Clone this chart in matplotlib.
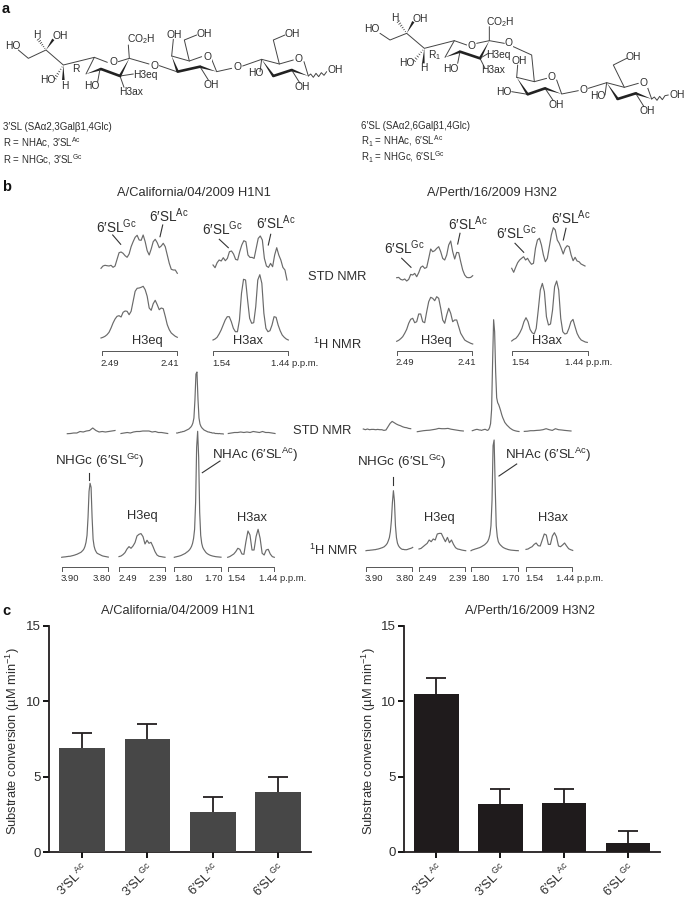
# -*- coding:utf-8 -*-
"""STD NMR of 3'SL / 6'SL on two HA strains, with substrate conversion bars"""
import numpy as np
import matplotlib
matplotlib.use('Agg')
import matplotlib.pyplot as plt

plt.rcParams['font.family'] = ['Liberation Sans', 'DejaVu Sans']
plt.rcParams['mathtext.fontset'] = 'custom'
plt.rcParams['mathtext.rm'] = 'Liberation Sans'
plt.rcParams['mathtext.it'] = 'Liberation Sans'
plt.rcParams['mathtext.bf'] = 'Liberation Sans:bold'
plt.rcParams['mathtext.default'] = 'rm'

W, H = 685, 898
TXT = '#2e2e2e'
TRACE = '#6a6a6a'

# ---- panel c data ----
bar_labels = ["3′SL$^{\\,Ac}$", "3′SL$^{\\,Gc}$", "6′SL$^{\\,Ac}$", "6′SL$^{\\,Gc}$"]
h1n1_rate = [6.9, 7.5, 2.7, 4.0]
h1n1_err = [1.03, 1.0, 0.95, 1.0]
h3n2_rate = [10.5, 3.2, 3.25, 0.6]
h3n2_err = [1.05, 1.0, 0.95, 0.8]
y_ticks = [0, 5, 10, 15]

# ---- panel b, H1N1 expansions (intensity on an even ppm grid) ----
cal_std_h3eq = [6.7, 9, 9.7, 9.3, 9, 9.7, 7.7, 9, 15.7, 22.3, 23, 21.7, 19.3, 17.7, 21, 28.3, 33.3, 37.7, 39.7, 35,
                34.7, 40, 33.3, 24.3, 20, 26, 33.3, 35.7, 32.3, 27.3, 29, 31.7, 28.3, 20, 11.7, 5.7, 5, 5, 1.7]
cal_ref_h3eq = [0, .7, 1.7, 3.3, 5.7, 10, 15, 19, 21.7, 22.3, 21, 25.7, 27, 26.7, 23.3, 26.7, 36.7, 46.7, 49.7, 50,
                50.7, 51.7, 48.3, 41.7, 30, 27.7, 34.3, 37.7, 33.3, 28.3, 30, 29.3, 21.7, 13.3, 8.3, 5, 3.3, 1.7, .7]
cal_std_h3ax = [16.7, 14, 19, 21.7, 20.7, 24, 21, 23.3, 30, 30.7, 27.7, 22.3, 21.7, 30, 36.7, 41, 40, 26.7, 24.3,
                24.3, 23.3, 33.3, 43.3, 45.7, 41.7, 23.3, 15.7, 14.3, 18.3, 15, 26.7, 34, 26.7, 21.7, 14.3, 11.7, 1.7]
cal_ref_h3ax = [1, 2, 3.7, 7, 11, 16, 21, 24.3, 24.3, 19.3, 12.7, 9.3, 9.3, 21, 47.7, 61.7, 61, 41, 22.7, 17.7, 18.3,
                34.3, 61, 66.3, 57.7, 27.7, 12.7, 9.3, 10.3, 16, 24.3, 23.7, 16, 10.3, 6, 3.7, 2, 1]

# full range H1N1
cal_std_nhgc = [.3, .5, 1, 1, 2.5, 2, 3, 3.5, 6, 3.5, 2, 2.5, 2, 2.5, 3, 3.5]
cal_std_eq = [.5, 1, 1.5, 1, 2, 2.5, 2.5, 3, 3, 3, 2, 2.5, 1.5, 1.5, 1, .5]
cal_std_nhac = [1, 1, 1.5, 1.5, 2, 2, 2.5, 2.5, 3, 3.5, 4, 4.5, 5, 6, 7, 8.5, 11, 16, 34, 60, 62, 35, 16, 10, 7.5, 6,
                5, 4, 3.5, 3, 2.5, 2, 2, 1.5, 1.5, 1, 1, 1, .5, .5, .5, .3, .5, .3, .2, .2, 0]
cal_std_ax = [.5, 1, 1.5, 1.5, 2, 1.5, 2, 1.5, 2.5, 2, 1.5, 2.5, 1.5, 1.5, 1, .5]
cal_ref_nhgc = [0, .2, .3, .4, .5, .7, .8, 1, 1, 1.2, 1.5, 1.7, 2, 2.3, 2.7, 3, 3.5, 4, 4.5, 5, 6, 7, 8.5, 11, 15, 22,
                40, 66, 74, 70, 40, 18, 11, 7.5, 5.5, 4, 3.5, 3, 2.5, 2, 1.5, 1.2, 1, .8, .6, .4, .2]
cal_ref_eq = [.7, 1.3, 2.7, 4.7, 8.3, 10.7, 9, 11.3, 14.7, 21.3, 23, 23.7, 20.7, 13.3, 17, 14, 15, 10.7, 5.7, 2.3, 1,
              .7, .3, 0]
cal_ref_nhac = [0, .3, .5, .8, 1, 1.3, 1.6, 2, 2.5, 3, 3.5, 4, 5, 5.5, 6.5, 7.5, 9, 11, 14, 19, 28, 55, 110, 126, 100,
                45, 22, 14, 10, 8, 6.5, 5, 4, 3.3, 2.7, 2.2, 1.8, 1.5, 1.2, 1, .8, .6, .5, .4, .3, .2, .1]
cal_ref_ax = [0, .7, 2, 3.3, 5.7, 9, 8, 3.3, 3, 15.7, 26.3, 22.3, 7.3, 7.3, 20.7, 28, 19, 4, 2.3, 7.3, 8, 3.3, .7, 0]

# ---- panel b, H3N2 expansions ----
per_std_h3eq = [4, 4.3, 2.3, 1.7, 2.7, .7, 2.3, 7.3, 6.7, 8.3, 5, 9, 14.3, 15.7, 13.3, 14.3, 23.3, 32.7, 30, 31, 33.3,
                35, 30, 23.3, 21.7, 26.7, 36.7, 40.7, 30, 22.7, 29.3, 29, 20, 11.7, 6.7, 4.3, 4, 4.3, 6]
per_ref_h3eq = [2.7, 3.7, 5.3, 7.3, 10.7, 14.7, 20.7, 24.7, 25.7, 21.3, 22.3, 30, 30, 22.3, 21.3, 32.3, 42.3, 46.7,
                45.7, 43.3, 47.3, 45.7, 35.7, 24, 20.7, 29, 35.7, 30.7, 22.3, 24, 24, 17.3, 10.7, 7.3, 4, 2.7, 1.7, .7, 0]
per_std_h3ax = [6.7, 2.7, 7.7, 12.3, 15, 16.7, 18.3, 15, 16.7, 13.3, 10.7, 11.7, 26.7, 35, 36.7, 30, 20, 13.3, 16.7,
                28.3, 40, 47.3, 45, 35, 31.7, 26.7, 21, 26.7, 29.3, 28.3, 20, 14.3, 17.7, 14, 13.3, 11, 10, 9]
per_ref_h3ax = [1.7, 3.3, 4.3, 6.7, 10, 14.3, 21, 25, 21, 13.3, 10, 8.7, 14.3, 32.7, 52.7, 59.3, 51, 26, 17.7, 18.7,
                32.7, 56, 61.7, 52.7, 24.3, 11, 8.7, 9.3, 14.3, 21, 23.3, 16, 9.3, 5.3, 2.7, 1.7, .7, .3]

# full range H3N2
per_std_nhgc = [2.7, 2, 2.7, 2, 2.3, 2.3, 2, 2.3, 2, 2, 1.3, 1.7, 5, 8.3, 10.3, 9, 7.7, 6.7, 6, 5, 4.3, 4, 3.3, 3]
per_std_eq = [0, .5, 1, 1.3, 1.5, 2, 2.5, 3.3, 3, 3, 3.3, 2.5, 2, 1.5, 1, .7]
per_std_nhac = [1, 1.3, 1.7, 2, 2.3, 2.3, 2, 1.7, 1.7, 1.3, 1.7, 2, 2.3, 2.3, 1.7, 1.3, 2, 4, 8, 22, 70, 112, 100, 60,
                34, 29, 27, 24, 20.7, 17, 14, 11.7, 9.3, 8, 6.7, 5.7, 4.7, 3.7, 3, 2.3, 1.7, 1.3, 1, .7, .5, .3, .2]
per_std_ax = [.3, .5, 1, 1, 1.3, 1.5, 2, 3, 2, 1.3, 3, 2, 1.7, 1.3, 1, .7]
per_ref_nhgc = [0, .2, .3, .3, .5, .6, .7, .8, 1, 1, 1.3, 1.5, 1.7, 2, 2.3, 2.7, 3, 3.5, 4, 5, 6, 7.5, 10, 13, 19, 30,
                48, 60, 50, 25, 13, 7.5, 5, 3.5, 2.5, 1.7, 1.3, 1.3, 1, 1, 1, 1.3, 1.7, 2, 2.3, 2.7, 3.3]
per_ref_eq = [1.7, 2.3, 4, 5.7, 7.3, 10.7, 9, 11.7, 10.7, 16.7, 17.3, 17.3, 13, 9, 13.3, 8, 10.7, 6.3, 3, 1.7, 1.3,
              .7, .3, 0]
per_ref_nhac = [0, .6, 1, 1.3, 1.7, 2, 2.3, 2.7, 3, 3.5, 4, 4.7, 5.3, 6, 7, 8, 9.5, 12, 16, 25, 50, 105, 110.7, 65, 25,
                14, 9, 7, 5.7, 4.7, 3.7, 3, 2.5, 2, 1.7, 1.3, 1, .8, .6, .5, .4, .3, .2, .1, .1, 0]
per_ref_ax = [1.3, 1.7, 3, 4, 6.3, 7.7, 5, 4.7, 10.7, 16.7, 15.7, 6.3, 6.3, 14.7, 18, 14, 4.7, 4, 5.7, 7.7, 4.7, 2, 1, .3]

# ---- panel a structures, bonds drawn from a 3x zoomed tracing ----
sl3_bonds = [[(55, 150), (85, 175), (138, 150), (190, 195), (283, 172), (322, 187)],
             [(355, 185), (388, 175), (385, 135)], [(388, 175), (447, 192)], [(283, 172), (258, 222)],
             [(300, 207), (293, 245)], [(360, 228), (400, 222)], [(360, 228), (372, 262)],
             [(478, 197), (530, 215)], [(515, 168), (568, 183), (605, 170)], [(635, 178), (650, 215), (695, 205)],
             [(515, 168), (520, 118)], [(568, 183), (553, 120), (590, 105)], [(600, 200), (625, 240)],
             [(728, 198), (785, 178), (838, 192), (880, 180)], [(912, 185), (925, 228)],
             [(838, 192), (820, 120), (855, 105)], [(785, 178), (780, 215)], [(875, 210), (900, 250)],
             [(925, 228), (932, 222), (940, 232), (948, 220), (956, 230), (964, 218), (972, 226), (980, 215)]]
sl3_wedges = [[(138, 150), (160, 118)], [(190, 195), (190, 240)], [(258, 222), (303, 207)], [(388, 175), (360, 228)],
              [(515, 168), (533, 215)], [(650, 215), (600, 200)], [(785, 178), (820, 228)], [(925, 228), (875, 210)]]
sl3_thick = [[(303, 207), (360, 228)], [(533, 215), (600, 200)], [(820, 228), (875, 210)]]
sl3_hashes = [[(138, 150), (115, 118)], [(190, 195), (165, 235)]]
sl3_atoms = [("HO", 37, 138), ("H", 110, 104), ("OH", 180, 107), ("HO", 142, 241), ("H", 193, 257), ("R", 228, 208),
             ("HO", 274, 258), ("O", 340, 187), ("CO$_2$H", 423, 117), ("H3eq", 436, 224), ("H3ax", 394, 275),
             ("O", 463, 197), ("OH", 522, 104), ("OH", 612, 101), ("O", 622, 170), ("OH", 634, 254), ("O", 712, 202),
             ("OH", 877, 103), ("O", 897, 178), ("HO", 767, 219), ("OH", 908, 262), ("OH", 1005, 209)]

sl6_bonds = [[(105, 100), (135, 120), (185, 100), (238, 145), (328, 122), (365, 135)],
             [(395, 130), (433, 122), (433, 80)], [(433, 122), (478, 130)], [(328, 122), (300, 172)],
             [(345, 155), (338, 190)], [(405, 175), (420, 205)], [(405, 175), (430, 160)],
             [(505, 140), (560, 165), (568, 245)], [(515, 232), (568, 245), (605, 235)],
             [(635, 240), (650, 282), (700, 272)], [(515, 232), (518, 195)], [(548, 283), (500, 275)],
             [(600, 265), (625, 302)], [(730, 265), (785, 248), (838, 262), (880, 250)], [(905, 255), (920, 297)],
             [(838, 262), (805, 195), (845, 175)], [(785, 248), (780, 285)], [(872, 280), (897, 320)],
             [(920, 297), (928, 291), (936, 301), (944, 289), (952, 299), (960, 287), (970, 285)]]
sl6_wedges = [[(185, 100), (205, 65)], [(238, 145), (235, 190)], [(300, 172), (345, 155)], [(433, 122), (405, 175)],
              [(515, 232), (548, 283)], [(650, 282), (600, 265)], [(785, 248), (818, 297)], [(920, 297), (872, 280)]]
sl6_thick = [[(345, 155), (405, 175)], [(548, 283), (600, 265)], [(818, 297), (872, 280)]]
sl6_hashes = [[(185, 100), (160, 65)], [(238, 145), (208, 182)]]
sl6_atoms = [("HO", 80, 88), ("H", 150, 54), ("OH", 226, 56), ("HO", 186, 190), ("H", 236, 205), ("R$_1$", 268, 164),
             ("HO", 318, 206), ("O", 380, 137), ("CO$_2$H", 467, 65), ("H3eq", 460, 165), ("H3ax", 444, 210),
             ("O", 492, 130), ("OH", 522, 183), ("HO", 475, 275), ("O", 620, 232), ("OH", 634, 316), ("O", 715, 270),
             ("OH", 864, 172), ("O", 895, 248), ("HO", 757, 287), ("OH", 907, 332), ("OH", 998, 285)]


def set_text(ax, x, y, s, size=9.3, ha='left', color=TXT, **kw):
    ax.text(x, y, s, fontsize=size, ha=ha, va='center', color=color, **kw)


def draw_molecule(ax, ox, bonds, wedges, thick, hashes, atoms):
    """zoom坐标换算后画分子式"""
    for line in bonds:
        p = np.array(line) / 3.0
        ax.plot(p[:, 0] + ox, p[:, 1], color='#444444', lw=0.7, solid_capstyle='round')
    for a, b in wedges:
        a, b = np.array(a) / 3.0, np.array(b) / 3.0
        n = np.array([-(b - a)[1], (b - a)[0]])
        n = n / np.hypot(*n) * 1.3
        ax.fill([a[0] + ox, b[0] + n[0] + ox, b[0] - n[0] + ox], [a[1], b[1] + n[1], b[1] - n[1]],
                color='#222222', lw=0)
    for line in thick:
        p = np.array(line) / 3.0
        ax.plot(p[:, 0] + ox, p[:, 1], color='#222222', lw=1.9, solid_capstyle='round')
    for a, b in hashes:
        a, b = np.array(a) / 3.0, np.array(b) / 3.0
        n = np.array([-(b - a)[1], (b - a)[0]])
        n = n / np.hypot(*n)
        for t in np.linspace(0.15, 1.0, 6):
            c = a + (b - a) * t
            ax.plot([c[0] - n[0] * 1.4 * t + ox, c[0] + n[0] * 1.4 * t + ox],
                    [c[1] - n[1] * 1.4 * t, c[1] + n[1] * 1.4 * t], color='#333333', lw=0.5)
    for s, x, y in atoms:
        ax.text(x / 3.0 + ox, y / 3.0, s, fontsize=7.4, ha='center', va='center', color=TXT,
                bbox=dict(fc='white', ec='none', pad=0.2) if s == 'O' else None)


def spectrum(x0, x1, base, ppm_l, ppm_r, vals):
    """一条谱线，高度单位为像素"""
    a = fig.add_axes([x0 / W, 1 - base / H, (x1 - x0) / W, 130 / H])
    a.set_xlim(ppm_l, ppm_r)
    a.set_ylim(0, 130)
    a.axis('off')
    a.patch.set_alpha(0)
    a.plot(np.linspace(ppm_l, ppm_r, len(vals)), vals, color=TRACE, lw=0.85, clip_on=False)


def bracket(ax, x0, x1, y):
    ax.plot([x0, x0, x1, x1], [y + 4, y, y, y + 4], color='#555555', lw=0.7)


def leader(ax, a, b):
    ax.plot([a[0], b[0]], [a[1], b[1]], color='#333333', lw=0.8)


def bar_panel(box, rate, err, color, title, title_x, lab_x):
    x0, x1, y0, y1 = box
    ax = fig.add_axes([x0 / W, 1 - y1 / H, (x1 - x0) / W, (y1 - y0) / H])
    pos = np.arange(len(rate))
    # 下方误差藏在柱子里
    low = np.full(len(err), 0.4)
    ax.errorbar(pos, rate, yerr=[low, err], fmt='none', ecolor='#231f20', elinewidth=1.3,
                capsize=7.5, capthick=1.3, zorder=2)
    ax.bar(pos, rate, width=0.7, color=color, zorder=3)
    ax.set_xlim(-0.5, 3.5)
    ax.set_ylim(0, 15)
    ax.set_yticks(y_ticks)
    ax.set_xticks(pos)
    ax.set_xticklabels(bar_labels, rotation=45, ha='right', rotation_mode='anchor', fontsize=9.3, color=TXT)
    ax.tick_params(axis='y', labelsize=9.5, length=4, width=1.3, pad=2, labelcolor=TXT)
    ax.tick_params(axis='x', length=4, width=1.3, pad=2)
    for s in ['top', 'right']:
        ax.spines[s].set_visible(False)
    for s in ['left', 'bottom']:
        ax.spines[s].set_linewidth(1.3)
        ax.spines[s].set_color('#231f20')
    fig.text(lab_x / W, 1 - 741.7 / H, "Substrate conversion (µM min$^{-1}$)", rotation=90, fontsize=9.3,
             ha='center', va='center', color=TXT)
    fig.text(title_x / W, 1 - 611.5 / H, title, fontsize=9.3, ha='center', va='center', color=TXT)


fig = plt.figure(figsize=(W / 100, H / 100), dpi=100)
bg = fig.add_axes([0, 0, 1, 1])
bg.set_xlim(0, W)
bg.set_ylim(H, 0)
bg.axis('off')

# panel letters
for s, y in [('a', 9), ('b', 187), ('c', 611)]:
    bg.text(2, y, s, fontsize=10.5, fontweight='bold', va='center', color='#111111')

# panel a
draw_molecule(bg, 0, sl3_bonds, sl3_wedges, sl3_thick, sl3_hashes, sl3_atoms)
draw_molecule(bg, 345, sl6_bonds, sl6_wedges, sl6_thick, sl6_hashes, sl6_atoms)
set_text(bg, 3, 127, "3′SL (SAα2,3Galβ1,4Glc)", 7)
set_text(bg, 3, 143, "R = NHAc, 3′SL$^{Ac}$", 7)
set_text(bg, 3, 160, "R = NHGc, 3′SL$^{Gc}$", 7)
set_text(bg, 361, 126, "6′SL (SAα2,6Galβ1,4Glc)", 7)
set_text(bg, 361, 141, "R$_1$ = NHAc, 6′SL$^{Ac}$", 7)
set_text(bg, 361, 157, "R$_1$ = NHGc, 6′SL$^{Gc}$", 7)

# panel b titles
set_text(bg, 194, 193, "A/California/04/2009 H1N1", 9.3, 'center')
set_text(bg, 492, 193, "A/Perth/16/2009 H3N2", 9.3, 'center')

# H1N1 expansions
spectrum(101, 177.3, 275, 2.49, 2.41, cal_std_h3eq)
spectrum(101, 177.3, 338, 2.49, 2.41, cal_ref_h3eq)
spectrum(213, 287, 281.7, 1.54, 1.44, cal_std_h3ax)
spectrum(213, 288.3, 341, 1.54, 1.44, cal_ref_h3ax)
bracket(bg, 101.7, 176.7, 351)
bracket(bg, 212.7, 288.3, 351)
for x, y, s in [(96, 226.7, "6′SL$^{Gc}$"), (149, 216, "6′SL$^{Ac}$"), (201.7, 229, "6′SL$^{Gc}$"),
                (256, 223, "6′SL$^{Ac}$")]:
    set_text(bg, x, y, s, 9.8)
leader(bg, (112.7, 235), (120.7, 244.3))
leader(bg, (162.7, 225), (160, 236.7))
leader(bg, (219.3, 239.3), (228.3, 247.7))
leader(bg, (270.7, 234.3), (268.3, 245))
set_text(bg, 147.3, 340.7, "H3eq", 9.3, 'center')
set_text(bg, 248.3, 340.7, "H3ax", 9.3, 'center')
set_text(bg, 307.7, 277, "STD NMR", 9.3)
set_text(bg, 313, 344, "$^{1}$H NMR", 9.3)
for x, s in [(109.3, "2.49"), (170, "2.41"), (221.7, "1.54")]:
    set_text(bg, x, 363, s, 6.8, 'center')
set_text(bg, 271, 363, "1.44 p.p.m.", 6.8)

# H3N2 expansions
spectrum(396.7, 472.7, 281.7, 2.49, 2.41, per_std_h3eq)
spectrum(396.7, 472.7, 344, 2.49, 2.41, per_ref_h3eq)
spectrum(511.7, 585, 275, 1.54, 1.44, per_std_h3ax)
spectrum(511.7, 587.3, 342.7, 1.54, 1.44, per_ref_h3ax)
bracket(bg, 396.7, 472.3, 350.5)
bracket(bg, 512.3, 587.7, 350.5)
for x, y, s in [(384.3, 247.7, "6′SL$^{Gc}$"), (448.3, 224, "6′SL$^{Ac}$"), (495.7, 232.7, "6′SL$^{Gc}$"),
                (551, 218, "6′SL$^{Ac}$")]:
    set_text(bg, x, y, s, 9.8)
leader(bg, (401.7, 258.3), (411, 267.3))
leader(bg, (460, 233.3), (457.7, 244))
leader(bg, (515, 243.3), (523.7, 252.3))
leader(bg, (566, 228.3), (563.3, 240))
set_text(bg, 436, 340.7, "H3eq", 9.3, 'center')
set_text(bg, 546.7, 340.7, "H3ax", 9.3, 'center')
for x, s in [(405, "2.49"), (466.7, "2.41"), (520.7, "1.54")]:
    set_text(bg, x, 362.7, s, 6.8, 'center')
set_text(bg, 565, 362.7, "1.44 p.p.m.", 6.8)

# H1N1 full range
spectrum(67.3, 115, 434, 3.90, 3.80, cal_std_nhgc)
spectrum(121, 167.7, 434, 2.49, 2.39, cal_std_eq)
spectrum(176.7, 223.3, 434, 1.80, 1.70, cal_std_nhac)
spectrum(228.3, 275, 434, 1.54, 1.44, cal_std_ax)
spectrum(61.7, 108.3, 557.3, 3.90, 3.80, cal_ref_nhgc)
spectrum(119, 165, 557.3, 2.49, 2.39, cal_ref_eq)
spectrum(174.3, 221, 557.3, 1.80, 1.70, cal_ref_nhac)
spectrum(227.7, 274.3, 557.3, 1.54, 1.44, cal_ref_ax)
for a, b in [(61.7, 108.3), (119, 165.3), (174.3, 221), (228.3, 274.3)]:
    bracket(bg, a, b, 566.5)
set_text(bg, 55, 461, "NHGc (6′SL$^{Gc}$)", 9.6)
set_text(bg, 212, 455, "NHAc (6′SL$^{Ac}$)", 9.6)
leader(bg, (89.5, 472.7), (89.5, 480))
leader(bg, (202.3, 472.7), (220, 461))
set_text(bg, 142.7, 515.7, "H3eq", 9.3, 'center')
set_text(bg, 252.3, 517.7, "H3ax", 9.3, 'center')
set_text(bg, 293.3, 430.7, "STD NMR", 9.3)
set_text(bg, 309.3, 550, "$^{1}$H NMR", 9.3)
for x, s in [(70, "3.90"), (101.3, "3.80"), (127.3, "2.49"), (158, "2.39"), (183.3, "1.80"), (214, "1.70"),
             (236.7, "1.54")]:
    set_text(bg, x, 578.3, s, 6.8, 'center')
set_text(bg, 259.3, 578.3, "1.44 p.p.m.", 6.8)

# H3N2 full range
spectrum(363.3, 410.7, 431.7, 3.90, 3.80, per_std_nhgc)
spectrum(417.3, 463.3, 431.7, 2.49, 2.39, per_std_eq)
spectrum(472.3, 519, 431.7, 1.80, 1.70, per_std_nhac)
spectrum(524.3, 571, 431.7, 1.54, 1.44, per_std_ax)
spectrum(366, 412.7, 550.7, 3.90, 3.80, per_ref_nhgc)
spectrum(419, 465.7, 550.7, 2.49, 2.39, per_ref_eq)
spectrum(471, 518.3, 550.7, 1.80, 1.70, per_ref_nhac)
spectrum(526, 572.7, 550.7, 1.54, 1.44, per_ref_ax)
for a, b in [(366, 412.3), (418.7, 465.3), (471, 517.7), (525.7, 572.3)]:
    bracket(bg, a, b, 566.7)
set_text(bg, 356.7, 461.7, "NHGc (6′SL$^{Gc}$)", 9.6)
set_text(bg, 505, 455, "NHAc (6′SL$^{Ac}$)", 9.6)
leader(bg, (393, 477.3), (393, 485))
leader(bg, (499, 476), (516.7, 464))
set_text(bg, 439.3, 517.7, "H3eq", 9.3, 'center')
set_text(bg, 552.7, 517.7, "H3ax", 9.3, 'center')
for x, s in [(374.3, "3.90"), (405, "3.80"), (427.3, "2.49"), (457.7, "2.39"), (480, "1.80"), (510.3, "1.70"),
             (534, "1.54")]:
    set_text(bg, x, 578.3, s, 6.8, 'center')
set_text(bg, 555.7, 578.3, "1.44 p.p.m.", 6.8)

# panel c
bar_panel((49.3, 311, 625.7, 852.3), h1n1_rate, h1n1_err, '#474747', "A/California/04/2009 H1N1", 178, 13)
bar_panel((404.3, 660, 625.7, 852), h3n2_rate, h3n2_err, '#1f1b1c', "A/Perth/16/2009 H3N2", 530, 369)

fig.savefig('out.png', dpi=100)
